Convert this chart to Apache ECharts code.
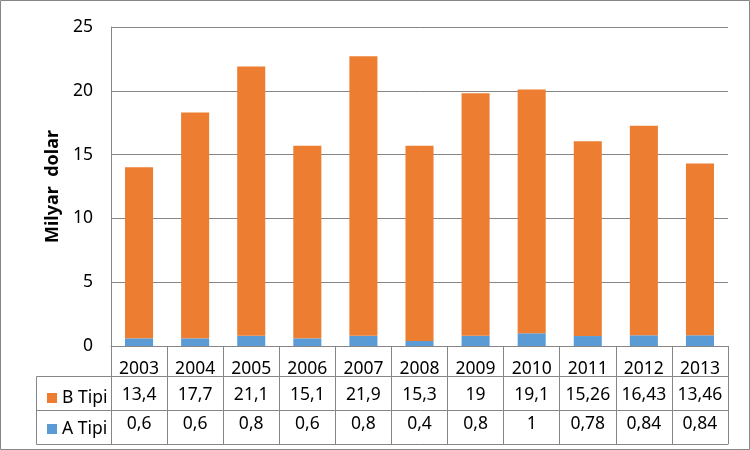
<!DOCTYPE html>
<html><head><meta charset="utf-8">
<script src="https://cdn.jsdelivr.net/npm/echarts@6/dist/echarts.min.js"></script>
<style>html,body{margin:0;padding:0;background:#fff}#c{width:750px;height:450px}</style>
</head><body><div id="c"></div>
<script>
var years = ['2003','2004','2005','2006','2007','2008','2009','2010','2011','2012','2013'];
var bTipi = [13.4, 17.7, 21.1, 15.1, 21.9, 15.3, 19, 19.1, 15.26, 16.43, 13.46];
var aTipi = [0.6, 0.6, 0.8, 0.6, 0.8, 0.4, 0.8, 1, 0.78, 0.84, 0.84];
var yTicks = {min: 0, max: 25, interval: 5};
var yName = 'Milyar  dolar';

var FONT = 'Noto Sans';
var GRAY = '#868686';
var ORANGE = '#ED7D31', BLUE = '#5B9BD5';
function fmt(v){ return String(v).replace('.', ','); }

var chart = echarts.init(document.getElementById('c'));
var gridL = 111, gridR = 22, gridT = 27, gridB = 104;
var labelStyle = {color:'#000', fontFamily:FONT, fontSize:17.5};
function tableAxis(data, offset, tickLen, margin, show){
  return {
    type:'category', data:data, position:'bottom', offset:offset,
    axisLine:{show:true, lineStyle:{color:GRAY, width:1}},
    axisTick:{show:show, length:tickLen, alignWithLabel:false, lineStyle:{color:GRAY}},
    axisLabel:Object.assign({show:show, margin:margin, interval:0}, labelStyle),
    splitLine:{show:false}
  };
}
chart.setOption({
  animation:false,
  grid:{left:gridL, right:gridR, top:gridT, bottom:gridB},
  legend:{
    orient:'vertical', left:42, top:384, itemGap:13, itemWidth:10, itemHeight:10,
    icon:'rect', data:['B Tipi','A Tipi'],
    textStyle:{color:'#000', fontFamily:FONT, fontSize:17.5}
  },
  xAxis:[
    tableAxis(years, 0, 30, 14, true),
    tableAxis(bTipi.map(fmt), 30, 34, 10, true),
    tableAxis(aTipi.map(fmt), 64, 34, 5, true),
    tableAxis(years, 98, 0, 0, false)
  ],
  yAxis:{
    type:'value', min:yTicks.min, max:yTicks.max, interval:yTicks.interval,
    name:yName, nameLocation:'middle', nameGap:48, nameRotate:90,
    nameTextStyle:{color:'#000', fontFamily:FONT, fontSize:18, fontWeight:'bold'},
    axisLine:{show:true, lineStyle:{color:GRAY}},
    axisTick:{show:false},
    axisLabel:Object.assign({margin:18}, labelStyle),
    splitLine:{lineStyle:{color:GRAY, width:1}}
  },
  series:[
    {name:'A Tipi', type:'bar', stack:'t', data:aTipi, barWidth:'50%', itemStyle:{color:BLUE}},
    {name:'B Tipi', type:'bar', stack:'t', data:bTipi, barWidth:'50%', itemStyle:{color:ORANGE}}
  ],
  graphic:[
    {type:'rect', shape:{x:0.5, y:0.5, width:749, height:449}, style:{fill:'none', stroke:GRAY, lineWidth:1}, silent:true},
    {type:'rect', shape:{x:36.5, y:376.5, width:75, height:68}, style:{fill:'none', stroke:GRAY, lineWidth:1}, silent:true},
    {type:'line', shape:{x1:36.5, y1:410.5, x2:111.5, y2:410.5}, style:{stroke:GRAY, lineWidth:1}, silent:true}
  ]
});
</script></body></html>
